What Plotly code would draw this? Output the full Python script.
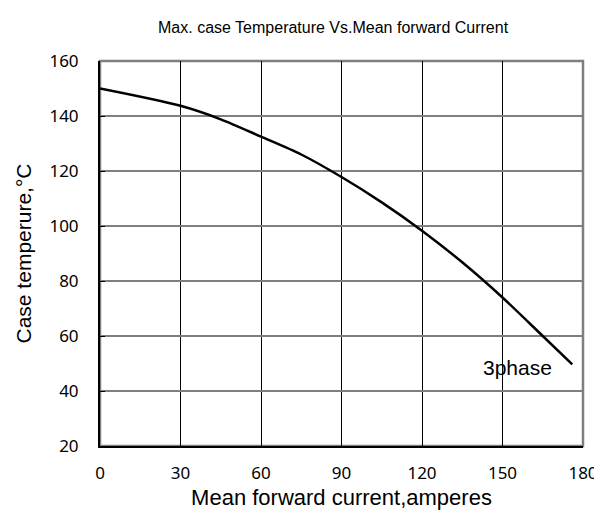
import plotly.graph_objects as go

current = [0, 30, 45, 60, 75, 90, 105, 120, 135, 150, 165, 176]
temperature = [150, 143.7, 138.8, 132.5, 126, 117.8, 108.6, 98.3, 86.8, 74, 60, 49.7]
x_ticks = [0, 30, 60, 90, 120, 150, 180]
y_ticks = [20, 40, 60, 80, 100, 120, 140, 160]
label_text = "3phase"
label_pos = (155.5, 48.5)

fig = go.Figure()
fig.add_trace(go.Scatter(x=current, y=temperature, mode="lines",
                         line=dict(color="black", width=2.5, shape="spline", smoothing=0.8),
                         showlegend=False, hoverinfo="skip"))

fig.add_annotation(x=label_pos[0], y=label_pos[1], text=label_text, showarrow=False,
                   font=dict(family="Liberation Sans, Arial", size=21, color="black"))

fig.add_shape(type="rect", xref="paper", yref="paper", x0=0, y0=0, x1=1, y1=1,
              line=dict(color="#7f7f7f", width=2.5), layer="below")

fig.update_layout(
    width=602, height=528,
    margin=dict(l=92, r=27, t=53, b=90),
    paper_bgcolor="white", plot_bgcolor="white",
    title=dict(text="Max. case Temperature Vs.Mean forward Current", x=0.54, xanchor="center",
               y=0.964, yanchor="middle",
               font=dict(family="Liberation Sans, Arial", size=16, color="black")),
    font=dict(family="Liberation Sans, Arial", color="black"),
)
fig.update_xaxes(range=[0, 180], tickvals=x_ticks, showgrid=True, gridcolor="black", gridwidth=1,
                 showline=True, linecolor="black", linewidth=2, zeroline=False,
                 tickfont=dict(family="Noto Sans", size=17, color="black"), ticklabelstandoff=11,
                 title=dict(text="Mean forward current,amperes", standoff=6,
                            font=dict(family="Liberation Sans, Arial", size=22, color="black")))
fig.update_yaxes(range=[20, 160], tickvals=y_ticks, showgrid=True, gridcolor="#7f7f7f", gridwidth=1.5,
                 showline=True, linecolor="black", linewidth=2, zeroline=False,
                 ticks="inside", ticklen=5, tickcolor="black",
                 tickfont=dict(family="Noto Sans", size=17, color="black"), ticklabelstandoff=16,
                 title=dict(text="Case temperure,°C", standoff=12,
                            font=dict(family="Liberation Sans, Arial", size=21, color="black")))

fig.write_html("out.html")
